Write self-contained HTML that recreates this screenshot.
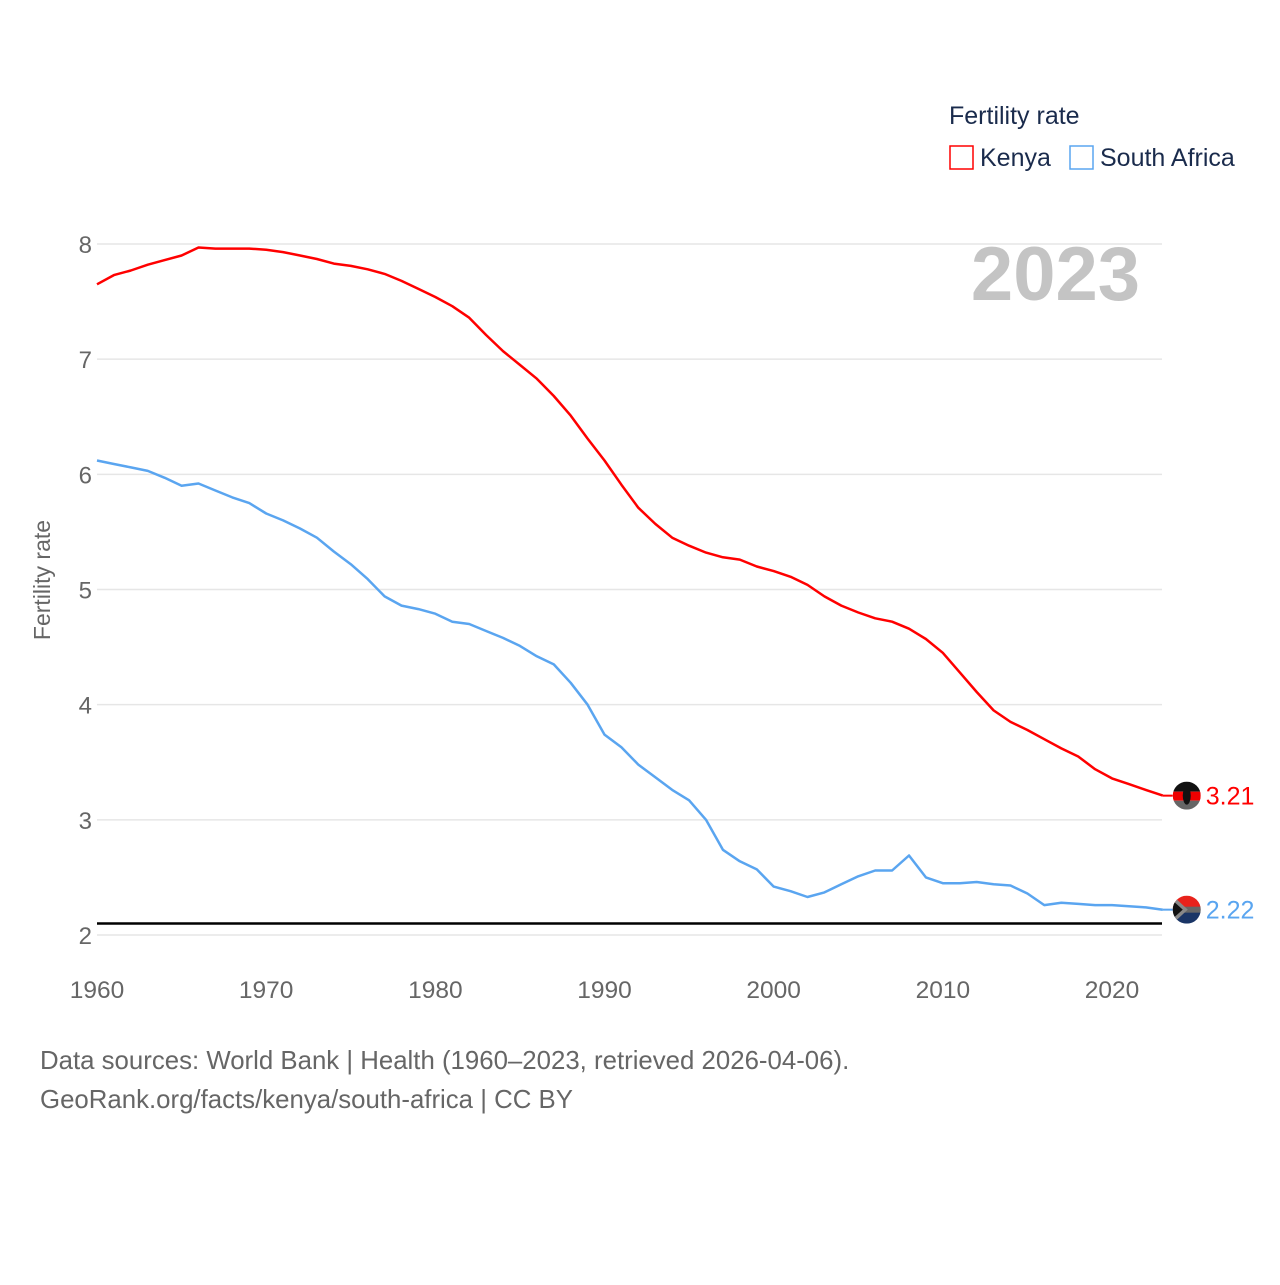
<!DOCTYPE html>
<html><head><meta charset="utf-8"><style>
body{margin:0;background:#fff;width:1280px;height:1280px;overflow:hidden;font-family:"Liberation Sans",sans-serif}
</style></head><body>
<svg id="chart" width="1280" height="1280" xmlns="http://www.w3.org/2000/svg" font-family="Liberation Sans, sans-serif">
<text x="949" y="124" font-size="25" fill="#1a2b4c">Fertility rate</text>
<rect x="950" y="146" width="23" height="23" fill="none" stroke="#ff0000" stroke-width="1.5"/>
<text x="980" y="166" font-size="25" fill="#1a2b4c">Kenya</text>
<rect x="1070" y="146" width="23" height="23" fill="none" stroke="#5aa5f0" stroke-width="1.5"/>
<text x="1100" y="166" font-size="25" fill="#1a2b4c">South Africa</text>
<text x="1140" y="300" font-size="76" font-weight="bold" fill="#c4c4c4" text-anchor="end">2023</text>
<text transform="translate(50,580) rotate(-90)" font-size="23" fill="#666" text-anchor="middle">Fertility rate</text>
<g id="grid"></g><g id="series"></g>
<text x="40" y="1069" font-size="25.8" fill="#666">Data sources: World Bank | Health (1960–2023, retrieved 2026-04-06).</text>
<text x="40" y="1108" font-size="25.8" fill="#666">GeoRank.org/facts/kenya/south-africa | CC BY</text>
</svg>
<script>
const years=[];for(let y=1960;y<=2023;y++)years.push(y);
const kenya=[7.65,7.73,7.77,7.82,7.86,7.90,7.97,7.96,7.96,7.96,7.95,7.93,7.90,7.87,7.83,7.81,7.78,7.74,7.68,7.61,7.54,7.46,7.36,7.21,7.07,6.95,6.83,6.68,6.51,6.31,6.12,5.91,5.71,5.57,5.45,5.38,5.32,5.28,5.26,5.20,5.16,5.11,5.04,4.94,4.86,4.80,4.75,4.72,4.66,4.57,4.45,4.28,4.11,3.95,3.85,3.78,3.70,3.62,3.55,3.44,3.36,3.31,3.26,3.21];
const southAfrica=[6.12,6.09,6.06,6.03,5.97,5.90,5.92,5.86,5.80,5.75,5.66,5.60,5.53,5.45,5.33,5.22,5.09,4.94,4.86,4.83,4.79,4.72,4.70,4.64,4.58,4.51,4.42,4.35,4.19,4.00,3.74,3.63,3.48,3.37,3.26,3.17,3.00,2.74,2.64,2.57,2.42,2.38,2.33,2.37,2.44,2.51,2.56,2.56,2.69,2.50,2.45,2.45,2.46,2.44,2.43,2.36,2.26,2.28,2.27,2.26,2.26,2.25,2.24,2.22];
const yTicks=[2,3,4,5,6,7,8];
const xTicks=[1960,1970,1980,1990,2000,2010,2020];
const replacementRate=2.1;
const NS="http://www.w3.org/2000/svg";
const X=y=>97+(y-1960)*(1015/60);
const Y=v=>244+(8-v)*(691/6);
const grid=document.getElementById('grid'),ser=document.getElementById('series');
function mk(tag,attrs,parent){const e=document.createElementNS(NS,tag);for(const k in attrs)e.setAttribute(k,attrs[k]);parent.appendChild(e);return e;}
yTicks.forEach(t=>{
 const l=mk('line',{x1:97,x2:1162,y1:Y(t),y2:Y(t),stroke:'#e6e6e6','stroke-width':1.5},grid);
 
 
 const tx=mk('text',{x:92,y:Y(t)+9,'font-size':24,fill:'#666','text-anchor':'end'},grid);tx.textContent=t;
 
 
});
xTicks.forEach(t=>{
 const tx=mk('text',{x:X(t),y:998,'font-size':24.5,fill:'#666','text-anchor':'middle'},grid);tx.textContent=t;
 
 
});
const rl=mk('line',{x1:97,x2:1162,y1:Y(replacementRate),y2:Y(replacementRate),stroke:'#000','stroke-width':2.5},grid);


function line(vals,color,name){
 const p=mk('path',{d:vals.map((v,i)=>(i?'L':'M')+X(years[i]).toFixed(1)+','+Y(v).toFixed(1)).join(''),fill:'none',stroke:color,'stroke-width':2.5,'stroke-linejoin':'round'},ser);
 
 
 const last=vals[vals.length-1],cy=Y(last),cx=X(2023)+24;
 const g=mk('g',{},ser);
 
 
 mk('line',{x1:X(2023),x2:cx-14,y1:cy,y2:cy,stroke:color,'stroke-width':2},g);
 if(name==='kenya'){
  mk('clipPath',{id:'ck'},g).appendChild(document.createElementNS(NS,'circle'));
  const c=g.querySelector('#ck circle');c.setAttribute('cx',cx);c.setAttribute('cy',cy);c.setAttribute('r',14);
  const gg=mk('g',{'clip-path':'url(#ck)'},g);
  mk('rect',{x:cx-14,y:cy-14,width:28,height:10,fill:'#111'},gg);
  mk('rect',{x:cx-14,y:cy-4,width:28,height:9,fill:'#e00'},gg);
  mk('rect',{x:cx-14,y:cy+5,width:28,height:9,fill:'#666'},gg);
  mk('ellipse',{cx:cx,cy:cy,rx:4,ry:9,fill:'#111'},gg);
 } else {
  mk('clipPath',{id:'cs'},g).appendChild(document.createElementNS(NS,'circle'));
  const c=g.querySelector('#cs circle');c.setAttribute('cx',cx);c.setAttribute('cy',cy);c.setAttribute('r',14);
  const gg=mk('g',{'clip-path':'url(#cs)'},g);
  mk('rect',{x:cx-14,y:cy-14,width:28,height:14,fill:'#e8221b'},gg);
  mk('rect',{x:cx-14,y:cy,width:28,height:14,fill:'#1a3566'},gg);
  mk('rect',{x:cx-14,y:cy-3,width:28,height:6,fill:'#666'},gg);
  mk('polygon',{points:`${cx-14},${cy-14} ${cx+1},${cy} ${cx-14},${cy+14}`,fill:'#888'},gg);
  mk('polygon',{points:`${cx-14},${cy-9} ${cx-4},${cy} ${cx-14},${cy+9}`,fill:'#111'},gg);
 }
 const t=mk('text',{x:cx+19,y:cy+9,'font-size':25,fill:color},ser);t.textContent=last.toFixed(2);
 
 
}
line(kenya,'#ff0000','kenya');
line(southAfrica,'#5aa5f0','south-africa');
</script>
</body></html>
